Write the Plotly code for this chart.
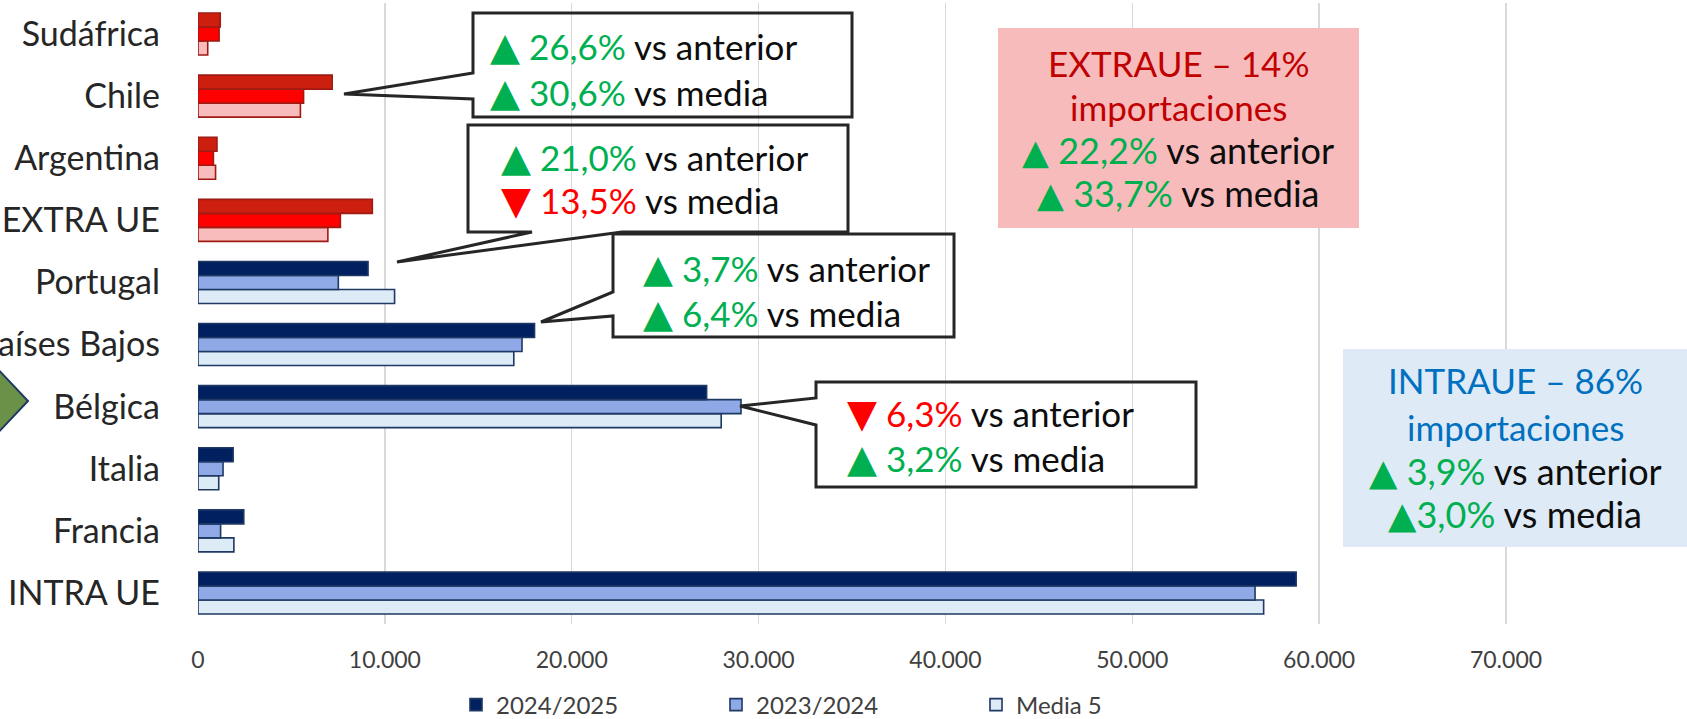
import plotly.graph_objects as go

# ---------------- data ----------------
categories = ["INTRA UE", "Francia", "Italia", "Bélgica", "Países Bajos",
              "Portugal", "EXTRA UE", "Argentina", "Chile", "Sudáfrica"]
v_2024_25 = [58770, 2450, 1880, 27220, 18010, 9100, 9330, 1015, 7180, 1190]
v_2023_24 = [56570, 1210, 1340, 29060, 17340, 7510, 7620, 825, 5650, 1130]
v_media5 = [57030, 1920, 1110, 28000, 16900, 10520, 6950, 940, 5480, 520]
series_names = ["2024/2025", "2023/2024", "Media 5"]
group = ["intra"] * 6 + ["extra"] * 4

# ---------------- styles ----------------
FILL = {
    "2024/2025": {"intra": "#002060", "extra": "#CC1F10"},
    "2023/2024": {"intra": "#8EA9E6", "extra": "#FF0000"},
    "Media 5": {"intra": "#DDEBF7", "extra": "#F8BCBC"},
}
EDGE = {"intra": "#1F3864", "extra": "#9E1A12"}
GREEN = "#00B050"
RED = "#FF0000"
FONT = "Lato, 'DejaVu Sans', sans-serif"

W, H = 1687, 719
L, R, T, B = 198, 13, 3, 95
PW = W - L - R
PH = H - T - B
PX_PER_UNIT = (1506 - 198) / 70000.0
XMAX = PW / PX_PER_UNIT


def px(x):
    return (x - L) / PW


def py(y):
    return (H - B - y) / PH


fig = go.Figure()
values = {"2024/2025": v_2024_25, "2023/2024": v_2023_24, "Media 5": v_media5}
for name in ["Media 5", "2023/2024", "2024/2025"]:
    fig.add_trace(go.Bar(
        name=name,
        y=categories,
        x=values[name],
        orientation="h",
        marker=dict(
            color=[FILL[name][g] for g in group],
            line=dict(color=[EDGE[g] for g in group], width=1.6),
        ),
        hoverinfo="skip",
    ))


def path(pts):
    return "M " + " L ".join(f"{px(a):.5f},{py(b):.5f}" for a, b in pts) + " Z"


def callout_left(x0, y0, x1, y1, b1, b2, tx, ty):
    return path([(x0, y0), (x1, y0), (x1, y1), (x0, y1), (x0, b2), (tx, ty), (x0, b1)])


def callout_bottom(x0, y0, x1, y1, b1, b2, tx, ty):
    return path([(x0, y0), (x1, y0), (x1, y1), (b2, y1), (tx, ty), (b1, y1), (x0, y1)])


shapes = []
box_line = dict(color="#262626", width=3)
# filled summary boxes
shapes.append(dict(type="rect", xref="paper", yref="paper", x0=px(998), x1=px(1359),
                   y0=py(228), y1=py(28), fillcolor="#F8BBBB", line=dict(width=0), layer="above"))
shapes.append(dict(type="rect", xref="paper", yref="paper", x0=px(1343), x1=px(1700),
                   y0=py(547), y1=py(349), fillcolor="#DEEAF6", line=dict(width=0), layer="above"))
# callouts
shapes.append(dict(type="path", xref="paper", yref="paper",
                   path=callout_left(473, 13, 852, 117, 73, 99, 344, 94), line=box_line))
shapes.append(dict(type="path", xref="paper", yref="paper",
                   path=callout_bottom(468, 125, 848, 232, 532, 622, 397, 262), line=box_line))
shapes.append(dict(type="path", xref="paper", yref="paper",
                   path=callout_left(613, 234, 954, 337, 292, 316, 541, 322), line=box_line))
shapes.append(dict(type="path", xref="paper", yref="paper",
                   path=callout_left(816, 382, 1196, 487, 398, 425, 740, 406), line=box_line))
# green arrow on the left edge
shapes.append(dict(type="path", xref="paper", yref="paper",
                   path=path([(-25, 345), (28, 401), (-25, 457)]),
                   fillcolor="#6A9148", line=dict(color="#1F3864", width=2), layer="above"))

annotations = []


def tri(sym, color, size):
    return f'<span style="color:{color};font-size:{size}px">{sym}</span>'


def up(p, size):
    return tri("▲", GREEN, size) + f' <span style="color:{GREEN}">{p}</span>'


def down(p, size):
    return tri("▼", RED, size) + f' <span style="color:{RED}">{p}</span>'


def left_line(x, y, text, size=35):
    annotations.append(dict(xref="paper", yref="paper", x=px(x), y=py(y), xanchor="left",
                            yanchor="middle", text=text, showarrow=False,
                            font=dict(family=FONT, size=size, color="#0D0D0D")))


def center_line(x, y, text, color="#0D0D0D", size=36):
    annotations.append(dict(xref="paper", yref="paper", x=px(x), y=py(y), xanchor="center",
                            yanchor="middle", text=text, showarrow=False,
                            font=dict(family=FONT, size=size, color=color)))


CT = 39   # triangle size in callouts
BT = 35   # triangle size in summary boxes
left_line(488, 45, up("26,6%", CT) + " vs anterior")
left_line(488, 91, up("30,6%", CT) + " vs media")
left_line(499, 156, up("21,0%", CT) + " vs anterior")
left_line(499, 199, down("13,5%", CT) + " vs media")
left_line(641, 267, up("3,7%", CT) + " vs anterior")
left_line(641, 312, up("6,4%", CT) + " vs media")
left_line(845, 412, down("6,3%", CT) + " vs anterior")
left_line(845, 457, up("3,2%", CT) + " vs media")

center_line(1178, 63, "EXTRAUE – 14%", "#C00000", 35)
center_line(1178, 107, "importaciones", "#C00000", 35)
center_line(1178, 150, up("22,2%", BT) + " vs anterior")
center_line(1178, 193, up("33,7%", BT) + " vs media")

center_line(1515, 380, "INTRAUE – 86%", "#0070C0", 35)
center_line(1515, 427, "importaciones", "#0070C0", 35)
center_line(1515, 470, up("3,9%", BT + 2) + " vs anterior")
center_line(1515, 513, tri("▲", GREEN, BT + 2) + f'<span style="color:{GREEN}">3,0%</span> vs media')

fig.update_layout(
    width=W, height=H,
    margin=dict(l=L, r=R, t=T, b=B, pad=0, autoexpand=False),
    paper_bgcolor="white", plot_bgcolor="white",
    barmode="group", bargap=0.324, bargroupgap=0,
    separators=",.",
    font=dict(family=FONT, color="#404040"),
    xaxis=dict(range=[0, XMAX], dtick=10000, tick0=0, tickformat=",d",
               showgrid=True, gridcolor="#D9D9D9", gridwidth=1.5,
               zeroline=False, showline=False, ticks="", automargin=False,
               ticklabelstandoff=20,
               tickfont=dict(family=FONT, size=23, color="#404040"), fixedrange=True),
    yaxis=dict(type="category", categoryorder="array", categoryarray=categories,
               range=[-0.5, len(categories) - 0.5], showgrid=False, zeroline=False,
               showline=False, ticks="", ticklabelstandoff=37, automargin=False,
               tickfont=dict(family=FONT, size=34, color="#262626"), fixedrange=True),
    legend=dict(orientation="h", traceorder="reversed", x=px(456), xanchor="left",
                y=py(705), yanchor="middle", entrywidth=215, entrywidthmode="pixels",
                font=dict(family=FONT, size=24, color="#404040"), bgcolor="rgba(0,0,0,0)"),
    shapes=shapes,
    annotations=annotations,
)

fig.write_html(
    "out.html",
    config={"displayModeBar": False, "staticPlot": True},
    post_script="document.body.style.margin='0';document.body.style.overflow='hidden';",
)
